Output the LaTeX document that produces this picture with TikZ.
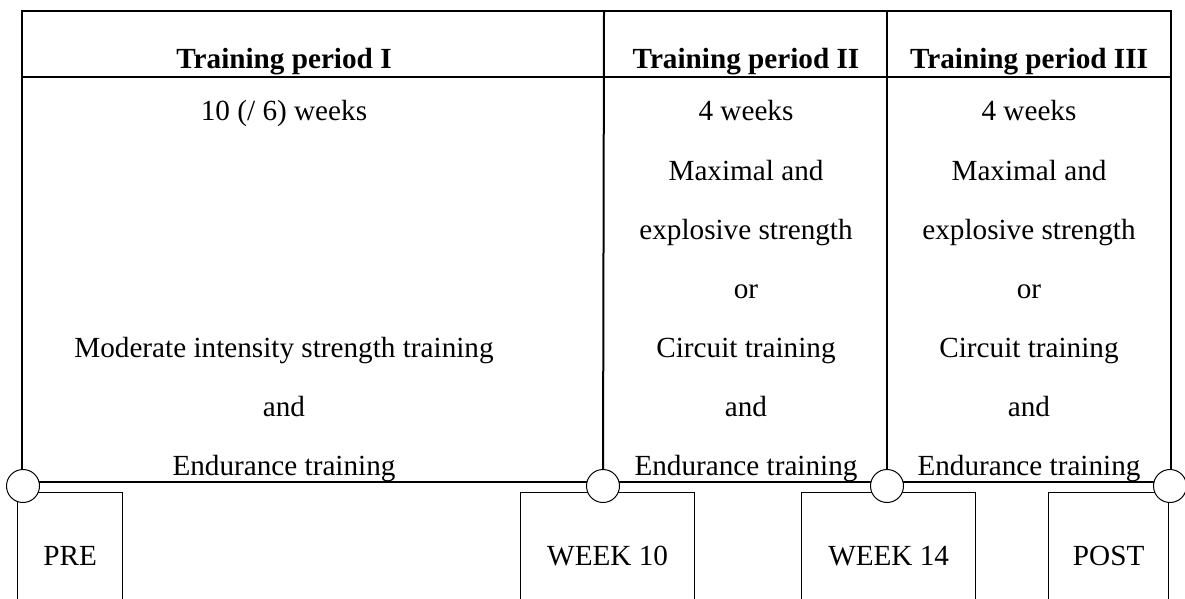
\documentclass[tikz,border=0pt]{standalone}
\usepackage{fontspec}
\setmainfont{Liberation Serif}
\usetikzlibrary{positioning}

\begin{document}
\begin{tikzpicture}[
		x=1pt, y=-1pt,
		every node/.style={font=\fontsize{29.2}{35}\selectfont},
		head/.style={anchor=base, font=\fontsize{29.2}{35}\selectfont\bfseries},
		cell/.style={anchor=base},
		grid/.style={draw, line width=2pt},
		stage/.style={draw, line width=1.3pt, anchor=north west, minimum height=126pt, inner sep=0pt},
		joint/.style={draw, circle, fill=white, line width=1pt, minimum size=33pt, inner sep=0pt}
		]
		\useasboundingbox (0,0) rectangle (1185,599);
		% table
		\draw[grid] (22,11) -- (22,482) -- (1171,482) -- (1171,11) -- cycle;
		\draw[grid] (22,77) -- (1171,77);
		\coordinate (colII) at (604,11);
		\coordinate (colIII) at (887,11);
		% period I
		\node[head] (headI) at (284,69) {Training period I};
		\node[cell] (weeksI) at (284,121) {10 (/ 6) weeks};
		\node[cell] (moderate) at (284,357) {Moderate intensity strength training};
		\node[cell] (andI) at (284,416) {and};
		\node[cell] (enduranceI) at (284,475) {Endurance training};
		% period II and III
		\foreach \name/\roman/\x in {II/II/746, III/III/1029} {
			\node[head] (head\name) at (\x,69) {Training period \roman};
			\node[cell] (weeks\name) at (\x,121) {4 weeks};
			\node[cell] (maximal\name) at (\x,180) {Maximal and};
			\node[cell] (explosive\name) at (\x,239) {explosive strength};
			\node[cell] (or\name) at (\x,298) {or};
			\node[cell] (circuit\name) at (\x,357) {Circuit training};
			\node[cell] (and\name) at (\x,416) {and};
			\node[cell] (endurance\name) at (\x,475) {Endurance training};
		}
		% test points
		\node[stage, minimum width=105pt] (pre) at (17,492) {PRE};
		\node[stage, minimum width=174pt] (week10) at (520,492) {WEEK 10};
		\node[stage, minimum width=174pt] (week14) at (801,492) {WEEK 14};
		\node[stage, minimum width=120pt] (post) at (1048,492) {POST};
		\node[joint] (jpre) at (23,486) {};
		\node[joint] (j10) at (603,486) {};
		\node[joint] (j14) at (887,486) {};
		\node[joint] (jpost) at (1170,486) {};
		\draw[grid] (colII) -- (j10);
		\draw[grid] (colIII) -- (j14);
	\end{tikzpicture}
\end{document}
